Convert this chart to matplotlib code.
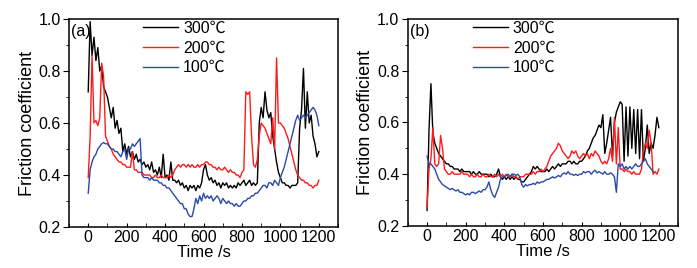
import matplotlib
matplotlib.use('Agg')
import matplotlib.pyplot as plt
from matplotlib.ticker import MultipleLocator

plt.rcParams['font.family'] = ['Liberation Sans', 'Noto Sans CJK SC', 'DejaVu Sans']
plt.rcParams['font.size'] = 11

# sampling instants (s), 10 s apart
time_s = list(range(0, 1201, 10))

# (a) friction coefficient
a_300 = [0.72, 0.99, 0.86, 0.93, 0.84, 0.89, 0.80, 0.82, 0.74, 0.72,
         0.70, 0.66, 0.62, 0.66, 0.58, 0.61, 0.56, 0.58, 0.49, 0.52,
         0.48, 0.51, 0.47, 0.49, 0.46, 0.48, 0.45, 0.46, 0.44, 0.45,
         0.43, 0.44, 0.42, 0.45, 0.41, 0.42, 0.40, 0.43, 0.39, 0.48,
         0.39, 0.40, 0.38, 0.45, 0.38, 0.38, 0.37, 0.38, 0.36, 0.37,
         0.35, 0.36, 0.34, 0.36, 0.35, 0.36, 0.34, 0.36, 0.35, 0.37,
         0.42, 0.44, 0.40, 0.38, 0.39, 0.37, 0.38, 0.36, 0.37, 0.35,
         0.37, 0.36, 0.37, 0.35, 0.36, 0.35, 0.36, 0.35, 0.37, 0.36,
         0.37, 0.38, 0.36, 0.37, 0.38, 0.36, 0.37, 0.36, 0.37, 0.60,
         0.66, 0.62, 0.72, 0.65, 0.62, 0.64, 0.55, 0.50, 0.45, 0.41,
         0.39, 0.37, 0.37, 0.36, 0.36, 0.35, 0.36, 0.36, 0.36, 0.37,
         0.58, 0.65, 0.81, 0.58, 0.72, 0.60, 0.63, 0.55, 0.52, 0.47,
         0.49]
a_200 = [0.39, 0.55, 0.86, 0.60, 0.61, 0.59, 0.62, 0.83, 0.78, 0.55,
         0.53, 0.51, 0.50, 0.48, 0.47, 0.46, 0.45, 0.45, 0.44, 0.44,
         0.43, 0.43, 0.43, 0.49, 0.42, 0.42, 0.41, 0.41, 0.41, 0.40,
         0.40, 0.40, 0.40, 0.39, 0.39, 0.40, 0.39, 0.39, 0.40, 0.39,
         0.39, 0.39, 0.40, 0.39, 0.40, 0.42, 0.43, 0.44, 0.43, 0.44,
         0.44, 0.43, 0.44, 0.43, 0.44, 0.43, 0.43, 0.44, 0.43, 0.44,
         0.44, 0.45, 0.45, 0.44, 0.44, 0.43, 0.43, 0.42, 0.43, 0.42,
         0.42, 0.43, 0.42, 0.41, 0.42, 0.41, 0.41, 0.40, 0.40, 0.39,
         0.41, 0.42, 0.72, 0.71, 0.72, 0.55, 0.44, 0.43, 0.46, 0.55,
         0.60, 0.59, 0.58, 0.56, 0.54, 0.52, 0.62, 0.50, 0.85, 0.60,
         0.60, 0.59, 0.58, 0.56, 0.54, 0.51, 0.48, 0.45, 0.42, 0.40,
         0.39, 0.38, 0.38, 0.37, 0.37, 0.36, 0.36, 0.35, 0.36, 0.36,
         0.38]
a_100 = [0.33, 0.42, 0.45, 0.47, 0.48, 0.50, 0.51, 0.52, 0.525, 0.52,
         0.52, 0.51, 0.50, 0.50, 0.49, 0.49, 0.48, 0.47, 0.49, 0.50,
         0.46, 0.50, 0.50, 0.52, 0.51, 0.52, 0.53, 0.54, 0.40, 0.39,
         0.39, 0.39, 0.38, 0.39, 0.38, 0.38, 0.38, 0.37, 0.37, 0.36,
         0.36, 0.35, 0.35, 0.34, 0.33, 0.32, 0.31, 0.30, 0.29, 0.29,
         0.27, 0.27, 0.25, 0.24, 0.24, 0.27, 0.31, 0.29, 0.32, 0.30,
         0.33, 0.31, 0.32, 0.31, 0.32, 0.30, 0.31, 0.32, 0.31, 0.29,
         0.31, 0.30, 0.29, 0.30, 0.29, 0.29, 0.28, 0.29, 0.28, 0.28,
         0.29, 0.30, 0.30, 0.31, 0.31, 0.32, 0.32, 0.33, 0.33, 0.34,
         0.35, 0.36, 0.36, 0.35, 0.37, 0.37, 0.36, 0.38, 0.37, 0.36,
         0.39, 0.41, 0.43, 0.46, 0.49, 0.52, 0.55, 0.58, 0.61, 0.63,
         0.61, 0.62, 0.63, 0.62, 0.63, 0.64, 0.65, 0.66, 0.65, 0.63,
         0.59]

# (b)
b_300 = [0.26, 0.57, 0.75, 0.56, 0.52, 0.50, 0.48, 0.47, 0.46, 0.45,
         0.44, 0.44, 0.43, 0.43, 0.42, 0.42, 0.42, 0.41, 0.42, 0.41,
         0.41, 0.41, 0.41, 0.40, 0.41, 0.40, 0.40, 0.41, 0.40, 0.40,
         0.40, 0.40, 0.39, 0.40, 0.39, 0.39, 0.40, 0.42, 0.39, 0.38,
         0.39, 0.38, 0.39, 0.38, 0.39, 0.38, 0.39, 0.38, 0.38, 0.37,
         0.37, 0.38, 0.39, 0.40, 0.41, 0.43, 0.42, 0.43, 0.42, 0.41,
         0.41, 0.41, 0.42, 0.41, 0.42, 0.43, 0.42, 0.43, 0.44, 0.43,
         0.44, 0.44, 0.44, 0.45, 0.45, 0.44, 0.45, 0.44, 0.44, 0.45,
         0.45, 0.46, 0.47, 0.49, 0.50, 0.52, 0.54, 0.55, 0.57, 0.59,
         0.58, 0.63, 0.48, 0.52, 0.57, 0.62, 0.47, 0.60, 0.64, 0.66,
         0.68, 0.67, 0.45, 0.66, 0.47, 0.66, 0.50, 0.65, 0.48, 0.65,
         0.46, 0.65, 0.45, 0.50, 0.59, 0.48, 0.52, 0.50, 0.55, 0.62,
         0.58]
b_200 = [0.27, 0.42, 0.46, 0.58, 0.44, 0.43, 0.44, 0.55, 0.50, 0.42,
         0.41, 0.40, 0.40, 0.41, 0.40, 0.40, 0.40, 0.40, 0.41, 0.40,
         0.40, 0.40, 0.39, 0.40, 0.39, 0.39, 0.40, 0.39, 0.39, 0.40,
         0.39, 0.39, 0.40, 0.39, 0.39, 0.40, 0.39, 0.40, 0.39, 0.40,
         0.39, 0.40, 0.39, 0.39, 0.40, 0.39, 0.39, 0.38, 0.39, 0.39,
         0.39, 0.40, 0.40, 0.40, 0.40, 0.41, 0.40, 0.41, 0.41, 0.42,
         0.41, 0.42, 0.43, 0.45, 0.47, 0.48, 0.49, 0.50, 0.52, 0.51,
         0.49, 0.48, 0.47, 0.46, 0.47, 0.49, 0.48, 0.49, 0.47, 0.46,
         0.47, 0.48, 0.47, 0.48, 0.46, 0.48, 0.47, 0.49, 0.48, 0.47,
         0.45, 0.44, 0.45, 0.44, 0.46, 0.50, 0.45, 0.62, 0.44, 0.58,
         0.42, 0.42, 0.41, 0.42, 0.41, 0.41, 0.40, 0.41, 0.40, 0.40,
         0.40, 0.42, 0.49, 0.52, 0.50, 0.57, 0.52, 0.40, 0.41, 0.40,
         0.42]
b_100 = [0.47, 0.44, 0.44, 0.43, 0.42, 0.40, 0.38, 0.37, 0.36, 0.355,
         0.35, 0.345, 0.34, 0.345, 0.34, 0.335, 0.34, 0.33, 0.33, 0.325,
         0.32, 0.325, 0.32, 0.33, 0.33, 0.325, 0.33, 0.335, 0.33, 0.34,
         0.34, 0.35, 0.37, 0.34, 0.32, 0.31, 0.33, 0.35, 0.38, 0.39,
         0.39, 0.395, 0.40, 0.39, 0.40, 0.40, 0.395, 0.40, 0.39, 0.36,
         0.35, 0.36, 0.355, 0.36, 0.36, 0.365, 0.36, 0.37, 0.365, 0.37,
         0.37, 0.375, 0.38, 0.38, 0.385, 0.39, 0.385, 0.39, 0.395, 0.39,
         0.40, 0.405, 0.40, 0.41, 0.40, 0.40, 0.395, 0.40, 0.395, 0.40,
         0.40, 0.41, 0.405, 0.41, 0.41, 0.40, 0.41, 0.415, 0.405, 0.41,
         0.405, 0.40, 0.41, 0.40, 0.40, 0.405, 0.40, 0.39, 0.33, 0.44,
         0.43, 0.44, 0.42, 0.43, 0.42, 0.43, 0.42, 0.43, 0.44, 0.43,
         0.43, 0.44, 0.45, 0.46, 0.44, 0.43, 0.42, 0.41]

labels = ['300\u2103', '200\u2103', '100\u2103']
colors = ['black', '#ff1a1a', '#2a4aa8']
panels = [('(a)', [a_300, a_200, a_100], [0.099, 0.153, 0.386, 0.776], 0.27),
          ('(b)', [b_300, b_200, b_100], [0.585, 0.157, 0.388, 0.772], 0.235)]

fig = plt.figure(figsize=(6.97, 2.68), dpi=100)

for tag, series, pos, leg_x in panels:
    ax = fig.add_axes(pos)
    for vals, lab, col in zip(series, labels, colors):
        ax.plot(time_s[:len(vals)], vals, color=col, lw=1.0, label=lab)
    ax.set_xlim(-100, 1300)
    ax.set_ylim(0.2, 1.0)
    ax.xaxis.set_major_locator(MultipleLocator(200))
    ax.xaxis.set_minor_locator(MultipleLocator(100))
    ax.yaxis.set_major_locator(MultipleLocator(0.2))
    ax.yaxis.set_minor_locator(MultipleLocator(0.1))
    ax.tick_params(axis='x', which='both', direction='in', length=3, top=False)
    ax.tick_params(axis='y', which='major', direction='out', length=4)
    ax.tick_params(axis='y', which='minor', direction='out', length=2.5)
    ax.tick_params(labelsize=11.5, pad=2)
    ax.set_xlabel('Time /s', fontsize=12, labelpad=0)
    ax.set_ylabel('Friction coefficient', fontsize=13, labelpad=2)
    for sp in ax.spines.values():
        sp.set_linewidth(1.1)
    ax.text(0.008, 0.975, tag, transform=ax.transAxes, ha='left', va='top', fontsize=11.5)
    ax.legend(loc='upper left', bbox_to_anchor=(leg_x, 1.0), frameon=False,
              handlelength=2.2, handletextpad=0.3, labelspacing=0.3,
              borderaxespad=0.1, borderpad=0, fontsize=11.5)

fig.savefig('out.png', dpi=100)
